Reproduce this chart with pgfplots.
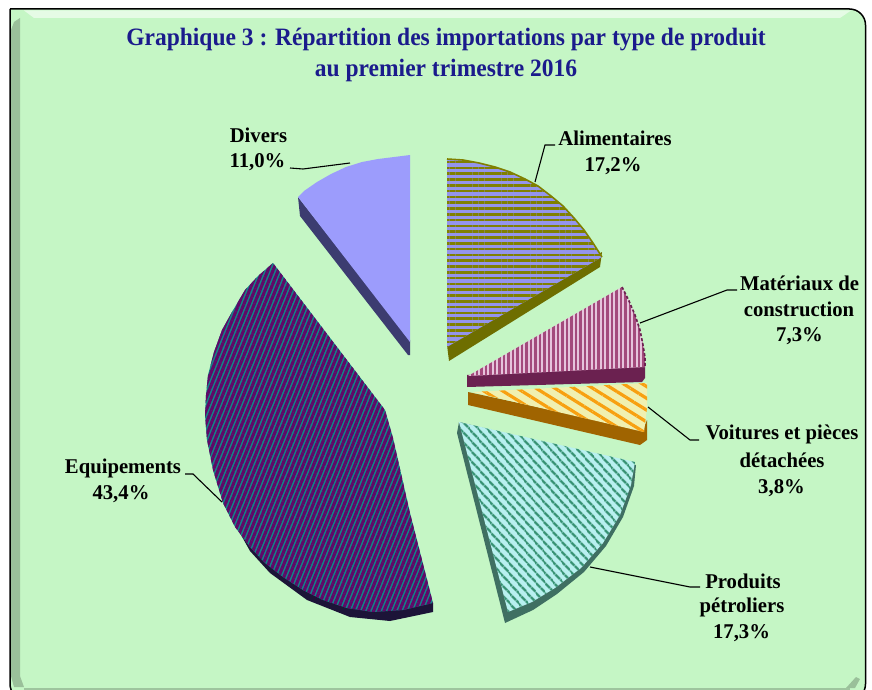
\documentclass[border=0pt]{standalone}
\usepackage{fontspec}
\setmainfont{Liberation Serif}
\usepackage{pgfplots}
\pgfplotsset{compat=1.18}
\usetikzlibrary{patterns.meta}
\definecolor{panel}{HTML}{C5F6C5}
\definecolor{navy}{HTML}{1B1B8C}
\definecolor{olv}{HTML}{808000}
\definecolor{olvd}{HTML}{6E6E00}
\definecolor{peri}{HTML}{9494EC}
\definecolor{mat}{HTML}{A34A7C}
\definecolor{matl}{HTML}{E6C4DC}
\definecolor{matd}{HTML}{6B2150}
\definecolor{yel}{HTML}{F0F0B0}
\definecolor{ora}{HTML}{F8A010}
\definecolor{brn}{HTML}{A06400}
\definecolor{cy}{HTML}{B8F0F0}
\definecolor{grn}{HTML}{339070}
\definecolor{grnd}{HTML}{3F6F62}
\definecolor{pur}{HTML}{600868}
\definecolor{teal2}{HTML}{108888}
\definecolor{purd}{HTML}{1C1438}
\definecolor{div}{HTML}{9C9CFC}
\definecolor{divd}{HTML}{3C3C70}
\begin{document}
\begin{tikzpicture}
\path[use as bounding box] (0,0) rectangle (872pt,690pt);
\begin{axis}[
  at={(0,0)}, anchor=south west,
  scale only axis, width=872pt, height=690pt,
  xmin=0, xmax=872, ymin=0, ymax=690, y dir=reverse,
  hide axis, clip=true,
]
% panel
\addplot[fill=panel, draw=black, line width=1.5pt, rounded corners=16pt] coordinates {(10,9) (865.5,9) (865.5,700) (10,700) (10,9)};
\addplot[fill=panel!45!white, draw=none] coordinates {(24,10.5) (851,10.5) (840,18) (34,18) (24,10.5)};
\addplot[fill=black!22!panel, draw=none] coordinates {(11,30) (14,22) (20,18) (20,676) (24,687) (14,687) (11,676) (11,30)};
\addplot[fill=black!22!panel, draw=none] coordinates {(846,688) (856,677) (860,679) (855,688) (846,688)};
\addplot[black!20!panel, line width=1.5pt] coordinates {(24,689) (850,689)};
% Alimentaires
\addplot[fill=olvd, draw=none] coordinates {(602,252) (600,267) (449,361) (447,345) (602,252)};
\addplot[fill=peri, draw=none] coordinates {(447,159) (463,160) (479,163) (495,167) (510,172) (525,179) (538,186) (551,196) (563,206) (574,218) (584,230) (593,243) (602,257) (447,347) (447,159)};
\addplot[pattern={Lines[angle=0,distance=5.8pt,line width=2.6pt]}, pattern color=olv, draw=none] coordinates {(447,159) (463,160) (479,163) (495,167) (510,172) (525,179) (538,186) (551,196) (563,206) (574,218) (584,230) (593,243) (602,257) (447,347) (447,159)};
\addplot[olv, line width=1.6pt] coordinates {(447,159) (463,160) (479,163) (495,167) (510,172) (525,179) (538,186) (551,196) (563,206) (574,218) (584,230) (593,243) (602,257)};
% Materiaux
\addplot[fill=matd, draw=none] coordinates {(467,375) (645,365) (645,378) (642,382) (467,387) (467,375)};
\addplot[fill=matl, draw=none] coordinates {(622,287) (629,301) (635,315) (640,330) (643,345) (645,357) (645,367) (468,376) (622,287)};
\addplot[pattern={Lines[angle=90,distance=4.5pt,line width=2.2pt]}, pattern color=mat, draw=none] coordinates {(622,287) (629,301) (635,315) (640,330) (643,345) (645,357) (645,367) (468,376) (622,287)};
\addplot[matd, line width=1.6pt, dash pattern=on 3pt off 2pt] coordinates {(622,287) (629,301) (635,315) (640,330) (643,345) (645,357) (645,367)};
% Voitures
\addplot[fill=brn, draw=none] coordinates {(468,392) (643,430) (647,420) (647,440) (640,445) (468,405) (468,392)};
\addplot[fill=yel, draw=none] coordinates {(472,392) (647,383) (647,408) (644,432) (472,392)};
\addplot[pattern={Lines[angle=-32,distance=10pt,line width=3.2pt]}, pattern color=ora, draw=none] coordinates {(472,392) (647,383) (647,408) (644,432) (472,392)};
% Produits
\addplot[fill=grnd, draw=none] coordinates {(459,422) (457,433) (505,623) (533,610) (557,594) (584,572) (606,546) (623,517) (634,486) (636,465) (459,422)};
\addplot[fill=cy, draw=none] coordinates {(459,422) (635,462) (631,485) (620,515) (603,543) (581,568) (555,588) (532,602) (508,612) (459,422)};
\addplot[pattern={Lines[angle=-48,distance=6.4pt,line width=2.5pt]}, pattern color=grn, draw=none] coordinates {(459,422) (635,462) (631,485) (620,515) (603,543) (581,568) (555,588) (532,602) (508,612) (459,422)};
% Equipements
\addplot[fill=purd, draw=none] coordinates {(223,503) (250,551) (270,573) (307,600) (350,617) (390,621) (433,612) (433,603) (223,503)};
\addplot[fill=teal2, draw=none] coordinates {(273,263) (258,276) (245,290) (232,312) (222,330) (214,352) (208,375) (206,395) (205,415) (207,440) (213,470) (223,503) (235,527) (250,547) (265,563) (283,577) (303,590) (323,600) (347,608) (373,612) (403,610) (433,603) (410,513) (393,438) (385,410) (273,263)};
\addplot[pattern={Lines[angle=68,distance=4.8pt,line width=3.2pt]}, pattern color=pur, draw=none] coordinates {(273,263) (258,276) (245,290) (232,312) (222,330) (214,352) (208,375) (206,395) (205,415) (207,440) (213,470) (223,503) (235,527) (250,547) (265,563) (283,577) (303,590) (323,600) (347,608) (373,612) (403,610) (433,603) (410,513) (393,438) (385,410) (273,263)};
% Divers
\addplot[fill=divd, draw=none] coordinates {(298,197) (300,216) (408,355) (410,355) (410,340) (298,197)};
\addplot[fill=div, draw=none] coordinates {(298,197) (304,191) (317,182) (331,174) (346,167) (362,162) (378,159) (394,157) (410,155) (410,342) (298,197)};
% leaders
\addplot[black, line width=1.1pt] coordinates {(290,168) (303,169) (350,163)};
\addplot[black, line width=1.1pt] coordinates {(555,145) (545,145) (535,182)};
\addplot[black, line width=1.1pt] coordinates {(640,323) (727,290) (737,290)};
\addplot[black, line width=1.1pt] coordinates {(648,407) (690,440) (699,440)};
\addplot[black, line width=1.1pt] coordinates {(590,567) (690,587) (700,587)};
\addplot[black, line width=1.1pt] coordinates {(185,474) (193,474) (222,502)};
% text
\tikzset{tit/.style={font=\fontsize{25}{25}\selectfont\bfseries, text=navy, xscale=.94}}
\node[tit] at (axis cs:446,40) {Graphique 3 : Répartition des importations par type de produit};
\node[tit] at (axis cs:446,70) {au premier trimestre 2016};
\tikzset{lab/.style={font=\fontsize{21}{21}\selectfont\bfseries, text=black, xscale=.985}}
\node[lab] at (axis cs:258.5,135) {Divers};
\node[lab] at (axis cs:257.5,162) {11,0\%};
\node[lab] at (axis cs:615,138) {Alimentaires};
\node[lab] at (axis cs:613,166) {17,2\%};
\node[lab] at (axis cs:799.5,283) {Matériaux de};
\node[lab] at (axis cs:799,309) {construction};
\node[lab] at (axis cs:799.5,336) {7,3\%};
\node[lab] at (axis cs:782,434) {Voitures et pièces};
\node[lab] at (axis cs:782,460) {détachées};
\node[lab] at (axis cs:781.5,488) {3,8\%};
\node[lab] at (axis cs:743,581) {Produits};
\node[lab] at (axis cs:742,607) {pétroliers};
\node[lab] at (axis cs:741.5,633) {17,3\%};
\node[lab] at (axis cs:123,468) {Equipements};
\node[lab] at (axis cs:121,494) {43,4\%};
\end{axis}
\end{tikzpicture}
\end{document}
